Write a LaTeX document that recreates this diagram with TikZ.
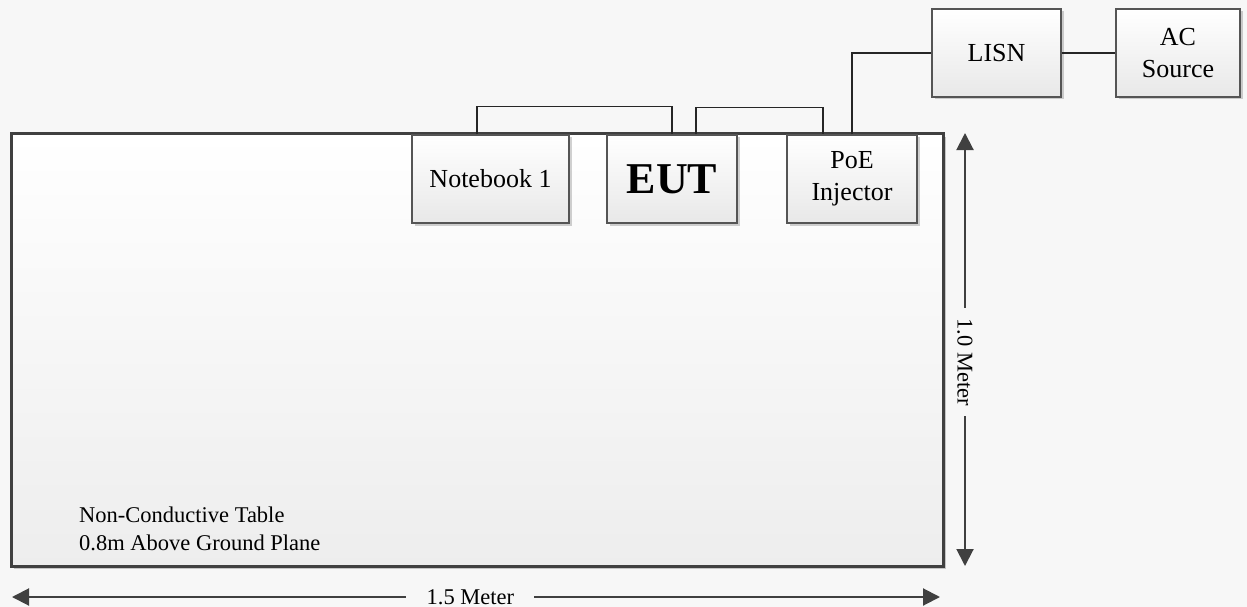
\documentclass[tikz,border=0pt]{standalone}
\usepackage{fontspec}
\setmainfont{Liberation Serif}
\usetikzlibrary{shadows,arrows.meta,calc}
\definecolor{bg}{HTML}{F7F7F7}
\definecolor{edge}{HTML}{404040}
\definecolor{boxedge}{HTML}{555555}
\begin{document}
\begin{tikzpicture}[x=1pt,y=-1pt,
  unit/.style={draw=boxedge, line width=1.3pt, top color=white, bottom color=black!9,
    minimum height=88pt, inner sep=0pt, align=center,
    font=\fontsize{26}{32}\selectfont,
    drop shadow={shadow xshift=2.5pt, shadow yshift=-2.5pt, opacity=0.18, fill=black}},
  wire/.style={line width=1.4pt, black!85},
  dim/.style={edge, line width=2pt, {Triangle[length=17pt,width=17pt]}-{Triangle[length=17pt,width=17pt]}},
  dimlabel/.style={fill=bg, inner xsep=0pt, inner ysep=0pt, font=\fontsize{22.5}{27}\selectfont, text=black}]
  % page background
  \fill[bg] (0,0) rectangle (1247,607);
  \useasboundingbox (0,0) rectangle (1247,607);

  % table top
  \node[draw=edge, line width=3pt, top color=white, bottom color=black!7,
        minimum width=932pt, minimum height=432pt, inner sep=0pt,
        drop shadow={shadow xshift=3pt, shadow yshift=-3pt, opacity=0.2, fill=black}]
        (table) at (477,350) {};

  % equipment
  \node[unit, minimum width=157pt] (nb) at (490.5,179) {Notebook 1};
  \node[unit, minimum width=130pt, font=\fontsize{44}{48}\selectfont\bfseries] (eut) at (672,179) {EUT};
  \node[unit, minimum width=130pt] (poe) at (852,179) {PoE\\Injector};
  \node[unit, minimum width=129pt] (lisn) at (996.5,53) {LISN};
  \node[unit, minimum width=124pt] (ac) at (1178,53) {AC\\Source};

  % cabling
  \draw[wire] ([xshift=-13.5pt]nb.north) -- ++(0,-28) -| (eut.north);
  \draw[wire] ([xshift=24pt]eut.north) -- ++(0,-27) -| ([xshift=-29pt]poe.north);
  \draw[wire] (poe.north) |- (lisn.west);
  \draw[wire] (lisn.east) -- (ac.west);

  % dimensions
  \coordinate (hl) at (12,597);
  \coordinate (hr) at (940,597);
  \coordinate (vt) at (965,133);
  \coordinate (vb) at (965,566);
  \draw[dim] (hl) -- (hr)
    node[dimlabel, pos=0.494, minimum width=128pt] {1.5 Meter};
  \draw[dim] (vt) -- (vb)
    node[dimlabel, pos=0.529, rotate=-90, minimum width=108pt] {1.0 Meter};

  % table caption
  \node[anchor=base west, inner sep=0pt, font=\fontsize{22.5}{28}\selectfont]
       (cap1) at (79,522) {Non-Conductive Table};
  \node[anchor=base west, inner sep=0pt, font=\fontsize{22.5}{28}\selectfont]
       (cap2) at (79,550) {0.8m Above Ground Plane};
\end{tikzpicture}
\end{document}
